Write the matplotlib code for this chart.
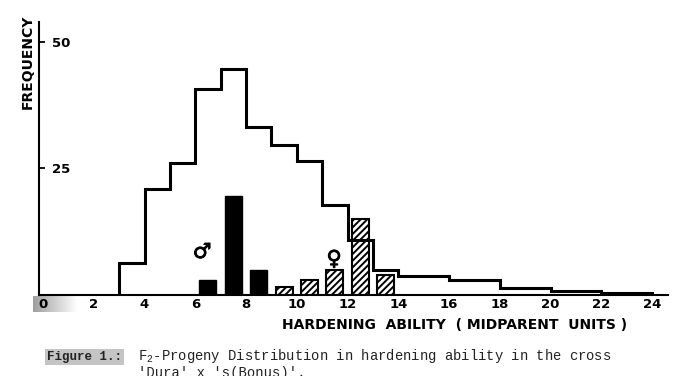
import numpy as np
import matplotlib
matplotlib.use("Agg")
import matplotlib.pyplot as plt
import matplotlib.patheffects as pe

# ---------------- data ----------------
# F2 progeny histogram (step outline)
f2_edges = [3, 4, 5, 6, 7, 8, 9, 10, 11, 12, 13, 14, 16, 18, 20, 22, 24]
f2_freq = [6.3, 21, 26, 40.7, 44.7, 33.2, 29.6, 26.5, 17.8, 10.8, 5, 3.8, 3, 1.4, 0.8, 0.3]

# male parent (black bars)
male_x = [6.5, 7.5, 8.5]
male_freq = [3, 19.5, 5]

# female parent (hatched bars)
female_x = [9.5, 10.5, 11.5, 12.5, 13.5]
female_freq = [1.5, 3, 5, 15, 4]

x_ticks = [0, 2, 4, 6, 8, 10, 12, 14, 16, 18, 20, 22, 24]
y_ticks = [25, 50]
y_ticklabels = ["25", "50"]

x_label = "HARDENING  ABILITY  ( MIDPARENT  UNITS )"
y_label = "FREQUENCY"
caption_head = "Figure 1.:"
caption_line1 = r"F$_{\mathrm{2}}$-Progeny Distribution in hardening ability in the cross"
caption_line2 = "'Dura' x 's(Bonus)'."

# ---------------- figure ----------------
W, H = 679, 376
plt.rcParams['hatch.linewidth'] = 1.4
plt.rcParams['mathtext.fontset'] = 'custom'
plt.rcParams['mathtext.rm'] = 'Liberation Mono'
fig = plt.figure(figsize=(W / 100, H / 100), dpi=100)

def px(x0, y0, w, h):
    return [x0 / W, 1 - (y0 + h) / H, w / W, h / H]

# scan artefact gradient under "0"
gax = fig.add_axes(px(33, 296, 44, 16), zorder=0)
grad = np.linspace(0.62, 1.0, 100)[None, :]
gax.imshow(grad, cmap='gray', vmin=0, vmax=1, aspect='auto', extent=[0, 1, 0, 1])
gax.axis('off')

ax = fig.add_axes(px(39, 22, 629, 273), zorder=1)
ax.set_facecolor('none')
ax.set_xlim(-0.16, 24.63)
ax.set_ylim(0, 53.95)

ax.bar(male_x, male_freq, width=0.67, color='black', edgecolor='black', linewidth=1)
ax.bar(female_x, female_freq, width=0.67, facecolor='white', edgecolor='black',
       linewidth=1.5, hatch='/////')
ax.stairs(f2_freq, f2_edges, baseline=0, color='black', linewidth=2.2, zorder=3)

for s in ['top', 'right']:
    ax.spines[s].set_visible(False)
for s in ['left', 'bottom']:
    ax.spines[s].set_linewidth(1.5)

ax.set_xticks(x_ticks)
ax.set_xticklabels([str(v) for v in x_ticks], fontweight='bold', fontsize=9.5,
                   family='DejaVu Sans')
ax.tick_params(axis='x', length=0, pad=2.5)

ax.set_yticks(y_ticks)
ax.set_yticklabels(y_ticklabels, fontweight='bold', fontsize=9.5, family='DejaVu Sans')
ax.tick_params(axis='y', direction='in', length=4.5, width=1.3, pad=-9.5)
for lab in ax.get_yticklabels():
    lab.set_horizontalalignment('left')

thick = [pe.withStroke(linewidth=0.6, foreground='black')]
ax.text(6.27, 8.5, "\u2642", ha='center', va='center', fontsize=15, fontweight='bold',
        path_effects=thick)
ax.text(11.47, 7.1, "\u2640", ha='center', va='center', fontsize=15, fontweight='bold',
        path_effects=thick)

fig.text(455 / W, 1 - 325 / H, x_label, ha='center', va='center', fontsize=10,
         fontweight='bold', family='DejaVu Sans')
fig.text(28 / W, 1 - 62 / H, y_label, ha='center', va='center', rotation=90,
         fontsize=10, fontweight='bold', family='DejaVu Sans')

fig.text(47 / W, 1 - 360 / H, caption_head, ha='left', va='baseline', fontsize=9,
         fontweight='bold', family='Liberation Mono', color='#222222',
         bbox=dict(facecolor='#c4c4c4', edgecolor='none', pad=1.5))
fig.text(138 / W, 1 - 360 / H, caption_line1, ha='left', va='baseline', fontsize=10,
         family='Liberation Mono', color='#222222')
fig.text(138 / W, 1 - 377 / H, caption_line2, ha='left', va='baseline', fontsize=10,
         family='Liberation Mono', color='#222222')

fig.savefig("out.png", dpi=100)
